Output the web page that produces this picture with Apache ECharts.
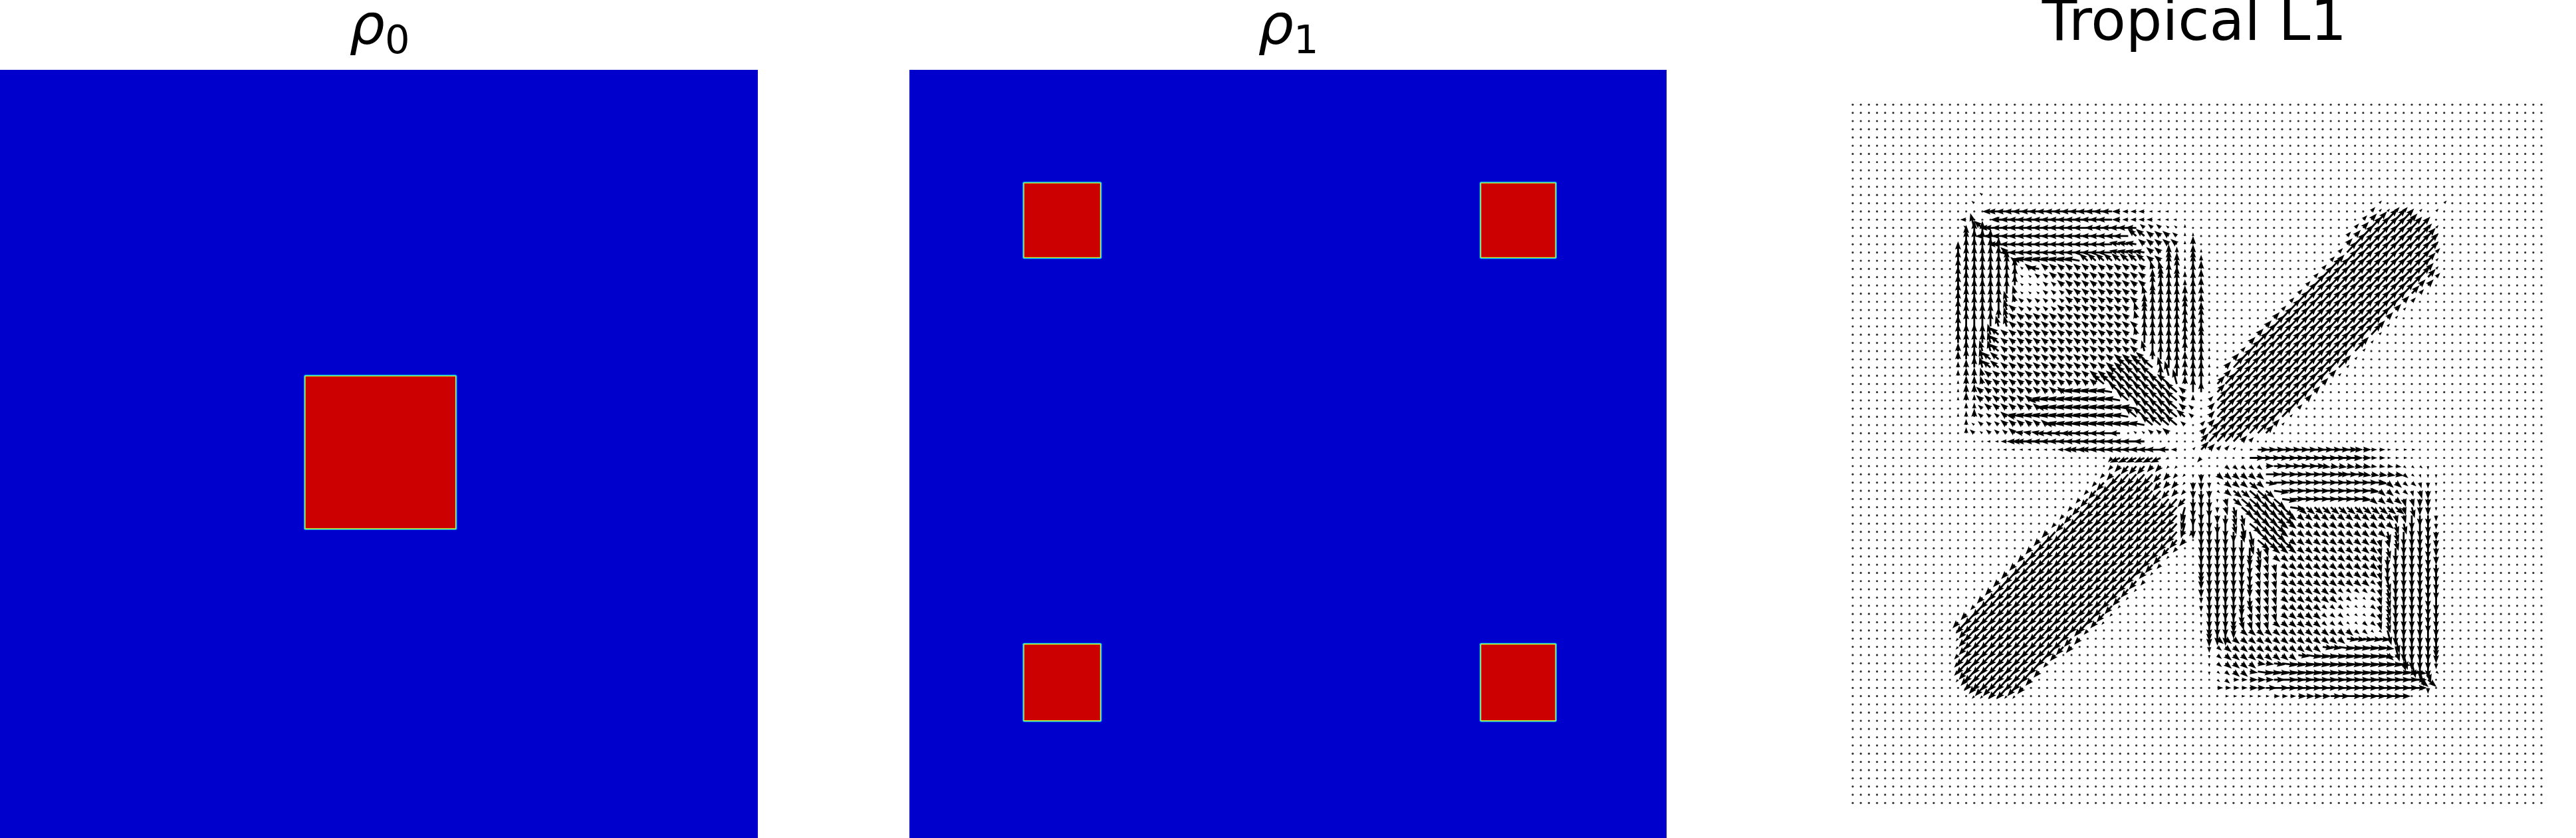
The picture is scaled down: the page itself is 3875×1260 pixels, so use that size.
<!DOCTYPE html>
<html>
<head>
<meta charset="utf-8">
<style>html,body{margin:0;padding:0;background:#fff}#c{width:3875px;height:1260px}</style>
<script src="https://cdn.jsdelivr.net/npm/echarts@6/dist/echarts.min.js"></script>
</head>
<body>
<div id="c"></div>
<script>
// ---- Density panels: squares, as fractions of the panel [x0, x1, y0, y1]
const rho0Squares = [[0.401, 0.603, 0.397, 0.599]];
const rho1Squares = [
  [0.1495, 0.254, 0.1457, 0.246],
  [0.753, 0.855, 0.1457, 0.246],
  [0.1495, 0.254, 0.746, 0.849],
  [0.753, 0.855, 0.746, 0.849]
];
const panelTitles = ['{r|ρ}{s|0}', '{r|ρ}{s|1}', 'Tropical L1'];

// ---- Quiver: 86 x 86 grid, arrow read per row as runs "firstColumn:code"
// code = direction letter + length class; "." = zero vector
const gridSize = 86;
const directionAngles = {E:0,V:352,Y:320,T:285,S:270,O:255,B:228,Z:205,W:180,Q:170,X:140,P:105,N:90,A:47};
const lengthClasses = {1:5.5,2:9,3:12.5,4:17,5:23};
const firstRow = 11;
const quiverRows = [
"16:X1 17:.",
"15:X1 16:. 65:A1 66:. 73:A1 74:.",
"17:W3 18:W4 33:W3 34:W2 37:W1 40:. 64:A2 65:A1 67:A2 69:. 70:A1 71:. 72:A1 73:.",
"14:W2 15:. 18:W3 19:W5 33:W3 34:W2 38:W1 41:. 63:A2 64:A3 65:A4 66:A5 69:A3 70:.",
"14:X1 15:P5 16:X4 17:W4 18:W5 30:W4 36:X2 39:X1 41:N1 42:. 62:A2 63:A3 64:A5 71:A2 72:A1 73:.",
"14:N4 15:N5 17:W5 35:X4 37:X3 40:X2 41:N1 43:. 61:A2 62:A3 63:A5 71:A4 72:A1 73:.",
"14:N5 18:W4 19:W5 33:Q4 36:X3 41:N1 42:N3 43:. 61:A3 62:A5 72:A1 73:.",
"13:N4 14:N5 19:X3 20:W5 33:Q4 37:X3 39:N3 40:N2 41:N1 42:N3 43:N1 44:. 60:A2 61:A5 72:A2 73:.",
"13:N4 14:N5 19:N4 20:X2 21:Q4 22:Q5 29:X4 37:X3 39:N4 40:N3 41:N1 42:N4 43:N2 44:. 59:A2 60:A3 61:A5 71:A4 72:A1 73:.",
"13:N4 14:N5 20:N4 21:X1 22:X3 23:Q4 24:X3 37:P3 39:N5 40:N4 41:N1 42:N5 43:N3 44:. 58:A2 59:A5 71:A3 72:A1 73:.",
"13:N4 14:N5 20:N4 21:X1 23:X2 25:X3 37:N3 38:N4 39:N5 40:N4 41:N2 42:N5 43:N3 44:. 57:A2 58:A5 71:A4 72:A2 73:.",
"13:N4 14:N5 20:N4 21:X1 24:X2 26:X3 37:N4 38:N5 41:N2 42:N5 43:N3 44:. 56:A2 57:A5 70:A3 72:.",
"13:N4 14:N5 20:P3 21:X1 24:X2 27:X3 36:P3 37:N4 38:N5 41:N3 42:N5 43:N3 44:. 55:A2 56:A5 69:A4 70:A2 71:.",
"13:N4 14:N5 19:P4 20:P3 21:X2 27:X3 36:N3 37:N5 41:N3 42:N5 43:N3 44:. 54:A2 55:A5 68:A3 69:A2 70:.",
"13:N4 14:N5 19:P4 20:X3 21:X2 26:X3 35:P3 36:N4 37:N5 41:N4 42:N5 43:N3 44:. 53:A2 54:A5 67:A3 68:A1 69:.",
"13:N4 14:N5 18:N4 19:P4 20:X3 35:P3 36:N5 41:N4 42:N5 43:N4 44:. 52:A3 53:A5 66:A3 67:A1 68:.",
"13:N4 14:N5 18:P4 20:X3 36:N5 41:N4 42:N5 43:N4 44:. 51:A3 52:A5 65:A3 66:A1 67:.",
"13:N4 14:N4 17:P4 18:X4 19:X3 35:P3 36:N5 41:N4 42:N5 43:N4 44:. 50:A3 51:A5 65:A1 66:.",
"13:N4 14:N4 17:P4 18:X4 19:X3 35:X3 36:N5 41:N4 42:N5 44:. 49:A3 50:A5 63:A3 64:A1 65:.",
"13:N3 14:N4 16:P4 18:X4 19:X3 36:P4 37:N5 41:N4 42:N5 44:N1 45:. 48:A2 49:A5 63:A1 64:.",
"13:N3 14:N4 16:P4 17:X4 19:X3 36:X4 37:N4 38:N5 41:N3 42:N5 44:N1 45:. 47:A3 48:A5 61:A2 62:A1 63:.",
"13:N2 14:N3 15:N4 16:P4 17:X4 19:X3 34:X5 38:P4 39:N5 41:N3 42:N5 44:N1 45:. 46:A3 47:A5 61:A1 62:.",
"13:N2 14:N3 16:P3 17:X3 33:X5 38:N4 39:P5 40:N5 41:N3 42:N5 44:N1 45:. 46:A3 47:A5 59:A3 60:A1 61:.",
"13:N1 14:N3 16:P3 17:X3 31:X5 40:P5 41:N3 42:N5 44:N1 45:A4 46:A5 58:A3 59:.",
"13:N1 14:N3 16:X3 27:Q5 33:X5 41:X3 42:N5 43:N4 44:. 45:A4 46:A5 57:A3 58:.",
"13:N1 14:N3 15:N2 16:X3 23:W4 24:Q5 34:X5 41:X3 42:N2 43:. 44:A2 45:A5 56:A3 57:.",
"14:N2 16:X2 17:X3 24:Q4 25:Q5 36:X5 41:X3 42:X2 43:. 44:A3 45:A5 55:A2 56:.",
"13:N1 14:N2 15:N3 16:X2 19:X3 20:Q3 21:Q5 35:X5 41:X4 42:X2 43:. 44:A3 45:A5 54:A1 55:.",
"14:N2 15:X1 16:X2 19:X3 25:Q4 26:Q5 37:X5 41:X2 42:. 43:A2 44:A3 45:A5 52:A3 53:A1 54:.",
"14:N2 15:X2 16:X1 17:X2 20:X3 21:Q3 24:W4 28:W5 33:W4 34:. 35:X1 37:X2 39:X3 40:. 43:A3 44:A5 51:A4 52:.",
"17:W1 19:W2 20:W3 21:W4 22:W5 36:W4 37:. 43:A4 44:A5 48:A3 49:A2 50:.",
"19:W1 26:W2 27:W3 28:W4 30:W5 39:W4 40:W2 41:. 42:A1 43:A4 44:A3 45:A2 47:A1 48:. 49:E1 50:E4 62:E3 64:E2 66:E1 70:.",
"32:B2 33:Z4 39:Z1 40:. 43:B2 44:. 48:E1 49:E5 62:E3 64:E2 66:E1 69:.",
"32:B2 33:B3 34:B4 37:B3 39:B1 41:. 46:Y2 51:E3 52:E4 58:V3 64:V2 68:Y1 71:S1 72:.",
"31:B2 32:B3 33:B5 38:B4 39:B3 40:B2 41:B1 42:S1 43:S3 44:S1 45:Y3 51:E5 60:E4 63:V3 68:Y2 69:Y1 70:T1 71:S1 73:.",
"30:B2 31:B4 32:B5 38:B4 39:B3 41:B1 42:S3 44:S2 45:Y1 46:Y3 49:Y4 50:Y3 51:V4 52:E5 65:V3 66:Y3 68:Y2 70:T2 71:S2 72:S1 73:.",
"29:B2 30:B4 31:B5 39:B4 40:B3 41:B2 42:S3 43:S4 44:S3 45:Y1 46:Y3 47:Y4 49:Y5 51:Y4 52:V5 53:E5 64:V3 65:Y3 67:Y2 69:T2 70:T3 71:S3 72:S1 73:.",
"28:B2 29:B4 30:B5 40:B5 41:B4 42:S4 45:S1 46:T3 47:Y4 48:Y5 53:V5 54:E5 63:V3 64:Y3 68:T3 70:S3 72:S1 73:.",
"27:B2 28:B4 29:B5 41:O5 42:S4 43:S5 44:S4 45:S2 46:T3 47:T4 48:Y5 54:V5 55:Y4 68:T3 69:T4 70:S3 72:S1 73:.",
"26:B2 27:B4 28:B5 41:O5 42:S4 43:S5 45:S3 46:S4 47:T4 49:Y5 54:Y3 66:Y3 67:T3 69:S5 70:S4 72:S2 73:.",
"25:B2 26:B4 27:B5 41:O5 42:S5 45:S4 46:S5 47:T4 48:T5 49:Y5 53:Y3 67:T4 69:S5 71:S4 72:S2 73:.",
"24:B3 25:B5 41:B2 43:S5 47:S4 48:T4 49:T5 50:Y5 53:Y3 66:T4 68:S5 71:S4 72:S3 73:.",
"23:B3 24:B5 40:B4 41:B3 42:. 43:S5 49:T5 50:Y5 54:Y3 65:T3 67:T4 68:S5 71:S4 72:S3 73:.",
"22:B3 23:B5 39:B4 40:B2 41:. 43:S5 50:T4 51:T3 52:Y3 65:T3 66:T4 67:S5 71:S4 72:S3 73:.",
"21:B3 22:B5 38:B4 39:B1 40:. 43:S5 49:S4 50:T4 51:T3 52:Y3 65:T3 66:S4 67:S5 71:S4 72:S3 73:.",
"20:B3 21:B5 37:B4 38:B2 39:. 43:S5 49:S4 50:T3 53:Y3 65:T3 66:S4 67:S5 71:S4 72:S4 73:.",
"19:B3 20:B5 36:B3 37:B1 38:. 43:S4 44:S5 49:S4 50:T3 53:Y3 64:Y3 65:T3 66:S4 67:S5 71:S4 73:.",
"18:B3 19:B5 35:B4 36:B2 37:. 43:S3 44:S5 49:S4 50:T3 53:Y3 64:Y2 65:T3 66:T4 67:S5 71:S4 73:.",
"17:B3 18:B5 34:B4 35:B1 36:. 43:S3 44:S5 49:S3 50:T3 53:Y3 60:Y2 65:T3 66:T4 67:S5 71:S4 73:.",
"16:B3 17:B5 33:B4 34:B1 35:. 43:S2 44:S5 49:S4 50:T3 53:Y3 60:Y2 62:Y1 64:Y2 65:T3 66:T4 67:S5 71:S4 72:S5 73:.",
"15:B2 16:B5 32:B4 33:B1 34:. 43:S2 44:S5 48:S4 49:T3 53:Y3 58:Y2 61:Y1 64:Y2 65:T3 66:T4 67:S5 71:S4 72:S5 73:.",
"14:B3 15:B5 31:B4 32:B1 33:. 43:S1 44:S5 48:S4 49:T3 53:Y3 58:Y2 61:Y1 64:Y2 65:T3 66:T4 67:S5 71:S4 72:S5 73:.",
"13:B3 14:B5 30:B3 31:B1 32:. 43:S1 44:S5 47:S4 48:T3 52:Y3 58:Y2 61:Y1 63:Y2 65:T3 66:T4 67:S5 71:S4 72:S5 73:.",
"13:B1 14:B4 15:B5 28:B3 29:B2 30:. 43:S1 44:S4 45:S5 47:S3 48:Y3 62:Y2 64:Y1 66:T5 67:S5 72:S5 73:.",
"13:B1 14:B4 15:B5 27:B4 28:B3 29:. 43:S1 44:S3 45:Y3 61:V4 66:Y1 67:T5 68:S5 72:S5 73:.",
"13:B1 14:B4 15:B5 26:B4 27:B3 28:. 44:S2 45:Y2 46:Y3 58:V4 60:V5 66:Y1 67:T5 68:S5 72:S4 73:.",
"13:B2 14:B5 25:B3 26:. 44:S1 45:Y2 46:Y3 55:V4 56:V5 66:Y3 67:Y2 68:T5 69:S5 72:S3 73:.",
"13:B2 14:B5 24:B2 25:. 44:S1 45:Y2 46:Y3 50:V3 52:V4 53:V5 68:T3 69:T5 70:S5 72:S2 73:.",
"13:B2 14:B4 15:B5 23:B3 24:. 44:S1 45:Y1 46:Y2 47:Y3 49:V3 50:V5 70:T5 71:T4 72:Y1 73:.",
"13:B1 14:B3 15:B5 22:B3 23:. 45:Y1 46:Y2 47:E2 49:E3 52:E4 53:E5 70:Y4 72:.",
"14:B1 15:B3 16:B4 18:B5 20:B4 21:B3 22:. 45:E2 49:E3 51:E4 52:E5 70:Y1 71:S2 72:.",
"15:B1 21:. 46:E1 52:E2 55:E3 59:E4 61:E5 68:."
];

// ---- Decode the rows into one [column, row, angle, length] entry per arrow
const arrows = [];
const zeroVectors = [];
for (let row = 0; row < gridSize; row++) {
  const text = quiverRows[row - firstRow] || '';
  const runs = text ? text.split(' ').map(t => { const p = t.split(':'); return [+p[0], p[1]]; }) : [];
  for (let col = 0; col < gridSize; col++) {
    let code = '.';
    for (const run of runs) { if (run[0] <= col) code = run[1]; else break; }
    if (code === '.') zeroVectors.push([col, row]);
    else arrows.push([col, row, directionAngles[code[0]], lengthClasses[code[1]]]);
  }
}

// ---- Marks
const BLUE = '#0000cc', RED = '#cc0000';
function rectPoly(api, b, inset, chamfer) {
  const a = api.coord([b[0], b[2]]), c = api.coord([b[1], b[3]]);
  const x0 = a[0] + inset, x1 = c[0] - inset, y0 = a[1] + inset, y1 = c[1] - inset, k = chamfer;
  return [[x0 + k, y0], [x1 - k, y0], [x1, y0 + k], [x1, y1 - k], [x1 - k, y1], [x0 + k, y1], [x0, y1 - k], [x0, y0 + k]];
}
function renderSquare(params, api) {
  const b = [api.value(0), api.value(1), api.value(2), api.value(3)];
  const layers = [['#00c0ff', 0, 1.5], ['#b4ff40', 1.2, 1], [RED, 2.5, 0]];
  return { type: 'group', children: layers.map(l => ({
    type: 'polygon', shape: { points: rectPoly(api, b, l[1], l[2]) }, style: { fill: l[0] }
  })) };
}
const SHAFT = 2.8, HEAD_W = 9, HEAD_L = 12.5, HEAD_A = 11;
function renderArrow(params, api) {
  const p = api.coord([api.value(0), api.value(1)]);
  const t = api.value(2) * Math.PI / 180, L = api.value(3);
  const s = Math.min(1, L / HEAD_L);
  const w = SHAFT * s / 2, hw = HEAD_W * s / 2, hl = HEAD_L * s, ha = HEAD_A * s;
  const local = [[0, w], [L - ha, w], [L - hl, hw], [L, 0], [L - hl, -hw], [L - ha, -w], [0, -w]];
  const cos = Math.cos(t), sin = Math.sin(t);
  return { type: 'polygon', silent: true,
    shape: { points: local.map(q => [p[0] + q[0] * cos - q[1] * sin, p[1] - q[0] * sin - q[1] * cos]) },
    style: { fill: '#000' } };
}
const hidden = { show: false };
const unitX = i => Object.assign({ type: 'value', gridIndex: i, min: 0, max: 1 }, hidden);
const unitY = i => Object.assign({ type: 'value', gridIndex: i, min: 0, max: 1, inverse: true }, hidden);
const titleFont = 'DejaVu Sans';
const titleRich = {
  r: { fontFamily: titleFont, fontStyle: 'italic', fontSize: 84, lineHeight: 100, color: '#000' },
  s: { fontFamily: titleFont, fontSize: 59, lineHeight: 100, verticalAlign: 'bottom', color: '#000' }
};
function makeTitle(text, x, top, size) {
  return { text, left: x, top, textAlign: 'center', padding: 0,
    textStyle: { fontFamily: titleFont, fontWeight: 'normal', fontSize: size, color: '#000', rich: titleRich } };
}
function squareSeries(i, squares) {
  return [
    { type: 'custom', xAxisIndex: i, yAxisIndex: i, silent: true, animation: false, clip: true,
      data: [[0, 1, 0, 1]],
      renderItem: (p, api) => ({ type: 'polygon', shape: { points: rectPoly(api, [0, 1, 0, 1], 0, 0) }, style: { fill: BLUE } }) },
    { type: 'custom', xAxisIndex: i, yAxisIndex: i, silent: true, animation: false, z: 3,
      data: squares, renderItem: renderSquare }
  ];
}

const chart = echarts.init(document.getElementById('c'), null, { renderer: 'canvas', width: 3875, height: 1260 });
chart.setOption({
  animation: false,
  backgroundColor: '#fff',
  title: [makeTitle(panelTitles[0], 571, -6, 84), makeTitle(panelTitles[1], 1938, -6, 84), makeTitle(panelTitles[2], 3301, -5, 86)],
  grid: [
    { left: 0, top: 105, width: 1140, height: 1155 },
    { left: 1368, top: 105, width: 1139, height: 1155 },
    { left: 2787, top: 157.3, width: 1036, height: 1050 }
  ],
  xAxis: [unitX(0), unitX(1),
    Object.assign({ type: 'value', gridIndex: 2, min: 0, max: gridSize - 1 }, hidden)],
  yAxis: [unitY(0), unitY(1),
    Object.assign({ type: 'value', gridIndex: 2, min: 0, max: gridSize - 1, inverse: true }, hidden)],
  series: [
    ...squareSeries(0, rho0Squares),
    ...squareSeries(1, rho1Squares),
    { type: 'scatter', xAxisIndex: 2, yAxisIndex: 2, silent: true, animation: false, progressive: 0,
      symbol: 'circle', symbolSize: 3.2, itemStyle: { color: '#000' }, data: zeroVectors },
    { type: 'custom', xAxisIndex: 2, yAxisIndex: 2, silent: true, animation: false, progressive: 0, clip: false,
      data: arrows, renderItem: renderArrow }
  ]
});
</script>
</body>
</html>
